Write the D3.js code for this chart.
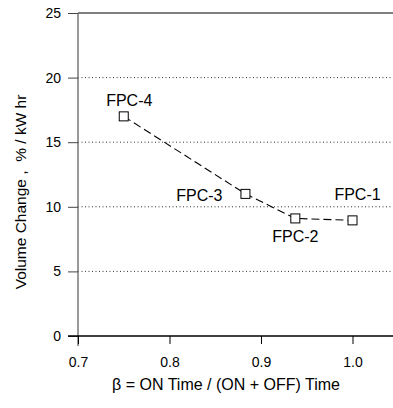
<!DOCTYPE html>
<html><head><meta charset="utf-8">
<script src="https://cdn.jsdelivr.net/npm/d3@7"></script>
<style>body{margin:0;background:#fff}svg{display:block}</style>
</head><body>
<script>
const names = ["FPC-4","FPC-3","FPC-2","FPC-1"];
const beta = [0.75, 0.883, 0.9375, 1.0];
const volChange = [17.0, 11.0, 9.1, 8.95];
const xTicks = [0.7, 0.8, 0.9, 1.0];
const yTicks = [0, 5, 10, 15, 20, 25];
const gridVals = [5, 10, 15, 20];

const W = 393, H = 408;
const svg = d3.select("body").append("svg").attr("width", W).attr("height", H);
const x = d3.scaleLinear().domain([0.7, 1.05]).range([78, 398.25]);
const y = d3.scaleLinear().domain([0, 25]).range([336, 13]);
const font = "Arial, 'Liberation Sans', sans-serif";

// grid
svg.append("g").selectAll("line").data(gridVals).join("line")
  .attr("x1", x(0.7)).attr("x2", W).attr("y1", d => y(d)).attr("y2", d => y(d))
  .attr("stroke", "#333").attr("stroke-width", 1).attr("stroke-dasharray", "1,2.5");
// top border
svg.append("line").attr("x1", x(0.7)).attr("x2", W).attr("y1", y(25)).attr("y2", y(25))
  .attr("stroke", "#555").attr("stroke-width", 1.3);

// y axis
const yAxis = d3.axisLeft(y).tickValues(yTicks).tickSize(10).tickPadding(7).tickFormat(d3.format("d"));
const gy = svg.append("g").attr("transform", `translate(${x(0.7)},0)`).call(yAxis);
gy.select(".domain").attr("stroke", "#777").attr("stroke-width", 1.5)
  .attr("d", `M0,${y(25)}V${y(0) + 10}`);
gy.selectAll(".tick line").attr("stroke", "#444");
gy.selectAll("text").attr("font-family", font).attr("font-size", 14).attr("fill", "#000");

// x axis
const xAxis = d3.axisBottom(x).tickValues(xTicks).tickSize(8).tickPadding(13).tickFormat(d3.format(".1f"));
const gx = svg.append("g").attr("transform", `translate(0,${y(0)})`).call(xAxis);
gx.select(".domain").attr("stroke", "#000").attr("stroke-width", 1.3).attr("d", `M${x(0.7) - 10},0H${W}`);
gx.selectAll(".tick line").attr("stroke", "#000");
gx.selectAll("text").attr("font-family", font).attr("font-size", 14).attr("fill", "#000");

// line
const pts = beta.map((b, i) => [b, volChange[i]]);
svg.append("path").datum(pts)
  .attr("d", d3.line().x(d => x(d[0])).y(d => y(d[1])))
  .attr("fill", "none").attr("stroke", "#000").attr("stroke-width", 1.1)
  .attr("stroke-dasharray", "8,4");
svg.append("g").selectAll("rect").data(pts).join("rect")
  .attr("x", d => x(d[0]) - 4.5).attr("y", d => y(d[1]) - 4.5)
  .attr("width", 9).attr("height", 9)
  .attr("fill", "#fff").attr("stroke", "#000").attr("stroke-width", 1);

// labels
const labelPos = [
  {dx: 5.5, dy: -10, anchor: "middle"},
  {dx: -23, dy: 7, anchor: "end"},
  {dx: 0, dy: 24, anchor: "middle"},
  {dx: 5, dy: -20, anchor: "middle"}
];
svg.append("g").selectAll("text").data(pts).join("text")
  .attr("x", (d, i) => x(d[0]) + labelPos[i].dx)
  .attr("y", (d, i) => y(d[1]) + labelPos[i].dy)
  .attr("text-anchor", (d, i) => labelPos[i].anchor)
  .attr("font-family", font).attr("font-size", 16).attr("fill", "#000")
  .text((d, i) => names[i]);

// axis titles
svg.append("text").attr("transform", `translate(26,192) rotate(-90)`)
  .attr("text-anchor", "middle").attr("font-family", font).attr("font-size", 15.5)
  .attr("xml:space", "preserve")
  .text("Volume Change ,  % / kW hr");
svg.append("text").attr("x", 226).attr("y", 390).attr("text-anchor", "middle")
  .attr("font-family", font).attr("font-size", 16)
  .text("β = ON Time / (ON + OFF) Time");
</script>
</body></html>
